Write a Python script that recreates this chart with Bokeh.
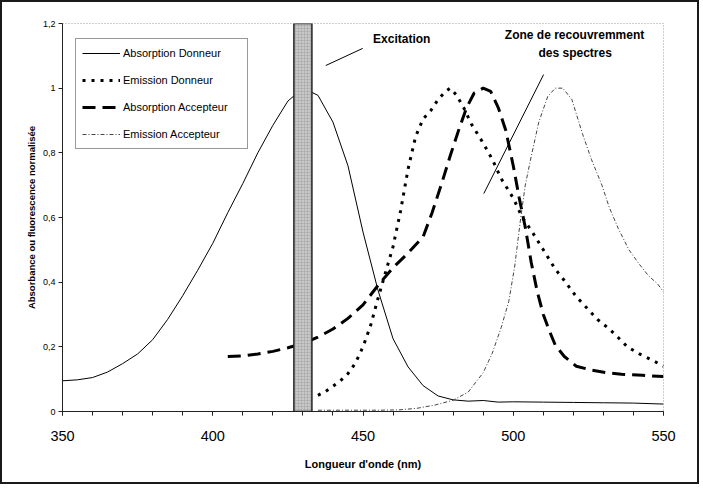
from bokeh.plotting import figure
from bokeh.models import (Range1d, FixedTicker, CustomJSTickFormatter, Legend,
                          LegendItem)
from bokeh.embed import file_html
from bokeh.resources import INLINE
from bokeh.core.properties import value

FONT = "Liberation Sans"

# Normalised spectra (wavelength in nm, normalised intensity)
abs_donneur_nm = [350, 355, 360, 365, 370, 375, 380, 385, 390, 395, 400, 405,
                  410, 415, 420, 425, 430, 435, 440, 445, 450, 455, 460, 465,
                  470, 475, 480, 485, 490, 495, 500, 510, 520, 530, 540, 550]
abs_donneur = [0.095, 0.098, 0.105, 0.122, 0.148, 0.178, 0.222, 0.285, 0.358,
               0.437, 0.52, 0.615, 0.705, 0.80, 0.885, 0.96, 1.0, 0.978, 0.895,
               0.76, 0.555, 0.375, 0.225, 0.138, 0.08, 0.048, 0.036, 0.032,
               0.034, 0.029, 0.03, 0.029, 0.028, 0.027, 0.026, 0.023]

em_donneur_nm = [435, 437.5, 440, 442.5, 445, 447.5, 450, 452.5, 455, 457.5,
                 460, 462.5, 465, 467.5, 470, 472.5, 475, 477.5, 479, 481,
                 483.5, 486, 490, 493, 496, 500, 503, 506, 510, 514, 517, 521,
                 525, 528, 532, 535, 538, 542, 546, 550]
em_donneur = [0.05, 0.062, 0.078, 0.095, 0.117, 0.15, 0.2, 0.265, 0.35, 0.43,
              0.51, 0.62, 0.75, 0.85, 0.905, 0.93, 0.965, 0.99, 1.0, 0.98,
              0.94, 0.89, 0.83, 0.78, 0.72, 0.66, 0.6, 0.56, 0.5, 0.44, 0.405,
              0.355, 0.315, 0.285, 0.255, 0.228, 0.2, 0.178, 0.16, 0.14]

abs_accepteur_nm = [405, 410, 415, 420, 425, 430, 435, 440, 445, 450, 455, 460,
                    465, 470, 473, 476, 479, 482, 484.5, 487, 490, 492.5, 495,
                    497.5, 500, 502, 504, 506, 508, 510, 512, 514, 517, 521,
                    526, 531, 536, 543, 550]
abs_accepteur = [0.17, 0.172, 0.178, 0.186, 0.197, 0.21, 0.23, 0.255, 0.288,
                 0.33, 0.39, 0.445, 0.49, 0.54, 0.615, 0.7, 0.79, 0.875, 0.94,
                 0.985, 1.0, 0.99, 0.94, 0.87, 0.76, 0.66, 0.57, 0.46, 0.37,
                 0.3, 0.25, 0.205, 0.17, 0.14, 0.128, 0.12, 0.115, 0.112, 0.108]

em_accepteur_nm = [435, 445, 455, 462, 468, 474, 480, 485, 490, 493, 496,
                   498.5, 500.5, 502.5, 504, 506, 508.5, 511.5, 514, 516.5,
                   519.5, 523, 526, 529.5, 532, 535, 538.5, 542, 545, 548, 550]
em_accepteur = [0.004, 0.004, 0.004, 0.005, 0.01, 0.02, 0.035, 0.06, 0.12,
                0.18, 0.26, 0.34, 0.45, 0.6, 0.7, 0.79, 0.895, 0.975, 1.0, 1.0,
                0.965, 0.86, 0.78, 0.7, 0.63, 0.565, 0.5, 0.455, 0.42, 0.395,
                0.37]

# Excitation band (nm)
excitation_left = 427
excitation_right = 433

x_ticks = [350, 400, 450, 500, 550]
x_minor_ticks = [350, 360, 370, 380, 390, 400, 410, 420, 430, 440, 450, 460,
                 470, 480, 490, 500, 510, 520, 530, 540, 550]
y_ticks = [0, 0.2, 0.4, 0.6, 0.8, 1.0, 1.2]

p = figure(width=699, height=484, output_backend="svg", toolbar_location=None,
           x_range=Range1d(350, 550), y_range=Range1d(0, 1.2),
           min_border_left=60, min_border_right=38, min_border_top=21,
           min_border_bottom=75)
p.styles = {"border": "2px solid #1a1a1a"}
p.grid.visible = False
p.background_fill_color = "white"
p.border_fill_color = "white"
p.outline_line_color = "#9a9a9a"
p.outline_line_dash = "1 2"
p.outline_line_width = 1

# x axis
xa = p.xaxis[0]
xa.ticker = FixedTicker(ticks=x_ticks, minor_ticks=x_minor_ticks)
xa.major_tick_out = 4
xa.major_tick_in = 0
xa.minor_tick_out = 4
xa.minor_tick_in = 0
xa.axis_line_color = "#222222"
xa.major_tick_line_color = "#222222"
xa.minor_tick_line_color = "#222222"
xa.major_label_text_font = FONT
xa.major_label_text_font_size = "14.5px"
xa.major_label_text_color = "black"
xa.major_label_standoff = 15
xa.axis_label = "Longueur d'onde (nm)"
xa.axis_label_text_font = FONT
xa.axis_label_text_font_size = "11px"
xa.axis_label_text_font_style = "bold"
xa.axis_label_text_color = "black"
xa.axis_label_standoff = 14

# y axis
ya = p.yaxis[0]
ya.ticker = FixedTicker(ticks=y_ticks, minor_ticks=[])
ya.formatter = CustomJSTickFormatter(
    code="return (Math.round(tick * 10) / 10).toString().replace('.', ',');")
ya.major_tick_out = 4
ya.major_tick_in = 0
ya.minor_tick_out = 0
ya.minor_tick_in = 0
ya.axis_line_color = "#222222"
ya.major_tick_line_color = "#222222"
ya.major_label_text_font = FONT
ya.major_label_text_font_size = "9px"
ya.major_label_text_color = "black"
ya.major_label_standoff = 3
ya.axis_label = "Absorbance ou fluorescence normalisée"
ya.axis_label_text_font = FONT
ya.axis_label_text_font_size = "9.5px"
ya.axis_label_text_font_style = "bold"
ya.axis_label_text_color = "black"
ya.axis_label_standoff = 3

# spectra
r_abs_d = p.line(abs_donneur_nm, abs_donneur, line_color="black", line_width=1)
r_em_d = p.line(em_donneur_nm, em_donneur, line_color="black", line_width=3,
                line_dash="3 6")
r_abs_a = p.line(abs_accepteur_nm, abs_accepteur, line_color="black",
                 line_width=3, line_dash="13 7")
r_em_a = p.line(em_accepteur_nm, em_accepteur, line_color="#444444",
                line_width=1, line_dash="4 2 1 2")

# excitation band
p.quad(left=[excitation_left], right=[excitation_right], bottom=[0], top=[1.2],
       fill_color="#c8c8c8", line_color="#222222", line_width=1.5,
       hatch_pattern="+", hatch_color="#a0a0a0", hatch_scale=3,
       hatch_weight=0.5)

# annotations
p.text(x=[462.9], y=[1.151], text=["Excitation"], text_font=value(FONT),
       text_font_style="bold", text_font_size="12px", text_align="center",
       text_baseline="middle", text_color="black")
p.line([449.9, 437.6], [1.123, 1.070], line_color="black", line_width=1)

p.text(x=[520.4, 520.6], y=[1.163, 1.110],
       text=["Zone de recouvremment", "des spectres"], text_font=value(FONT),
       text_font_style="bold", text_font_size="12px", text_align="center",
       text_baseline="middle", text_color="black")
p.line([510.1, 490.2], [1.042, 0.674], line_color="black", line_width=1)

legend = Legend(items=[
    LegendItem(label="Absorption Donneur", renderers=[r_abs_d]),
    LegendItem(label="Emission Donneur", renderers=[r_em_d]),
    LegendItem(label="Absorption Accepteur", renderers=[r_abs_a]),
    LegendItem(label="Emission Accepteur", renderers=[r_em_a]),
], location=(13, 262))
legend.margin = 0
legend.padding = 6
legend.spacing = 11
legend.glyph_width = 38
legend.glyph_height = 16
legend.label_height = 16
legend.label_width = 118
legend.label_standoff = 3
legend.label_text_font = FONT
legend.label_text_font_size = "11px"
legend.label_text_color = "black"
legend.border_line_color = "#333333"
legend.border_line_width = 1
legend.background_fill_color = "white"
legend.background_fill_alpha = 1
p.add_layout(legend)

open("out.html", "w").write(file_html(p, INLINE))
